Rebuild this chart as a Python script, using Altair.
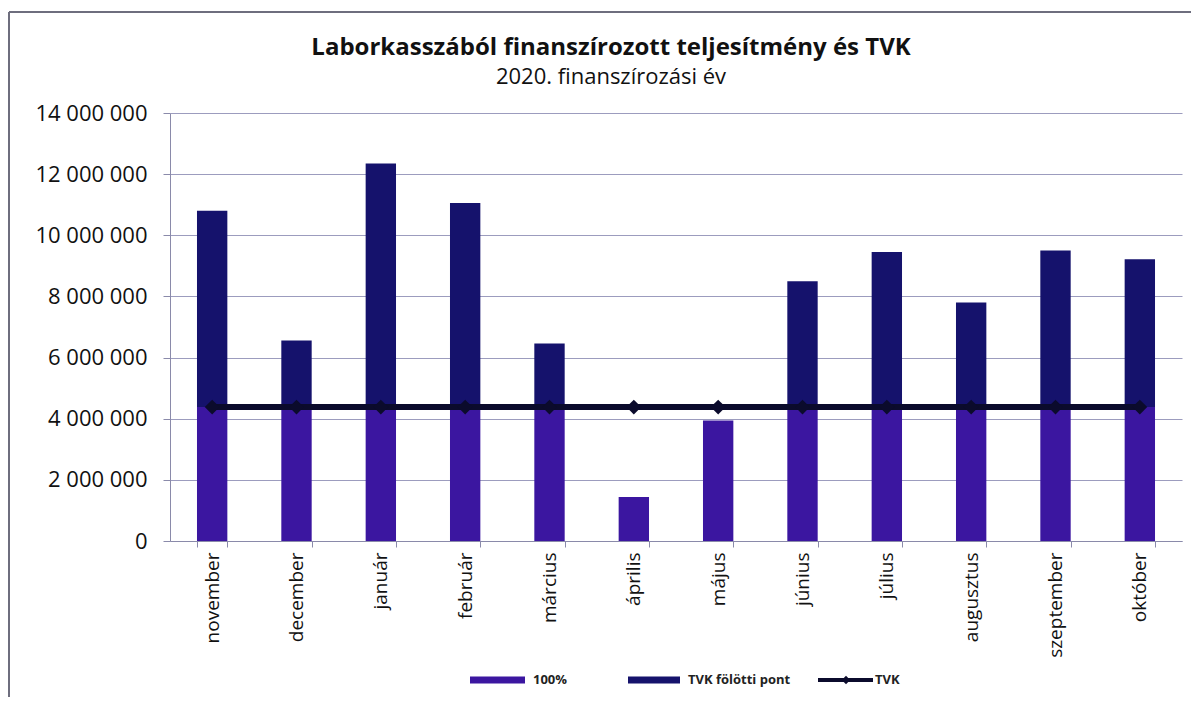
import altair as alt
import pandas as pd

months = ["november", "december", "január", "február", "március", "április",
          "május", "június", "július", "augusztus", "szeptember", "október"]
# total performance
total = [10800000, 6560000, 12350000, 11060000, 6460000, 1440000,
         3940000, 8500000, 9450000, 7800000, 9500000, 9220000]
tvk = [4380000] * 12
base_part = [min(t, v) for t, v in zip(total, tvk)]          # "100%"
above_part = [max(t - v, 0) for t, v in zip(total, tvk)]     # "TVK fölötti pont"

title_text = "Laborkasszából finanszírozott teljesítmény és TVK"
subtitle_text = "2020. finanszírozási év"
y_ticks = [0, 2000000, 4000000, 6000000, 8000000, 10000000, 12000000, 14000000]

C_BASE = "#3b16a0"
C_ABOVE = "#15126c"
C_LINE = "#0b0b2c"
C_GRID = "#9c9cbe"
FONT = "Open Sans"

rows = []
for m, b, a in zip(months, base_part, above_part):
    rows.append({"hónap": m, "sorozat": "100%", "érték": b, "rend": 0})
    rows.append({"hónap": m, "sorozat": "TVK fölötti pont", "érték": a, "rend": 1})
bars_df = pd.DataFrame(rows)
line_df = pd.DataFrame({"hónap": months, "TVK": tvk})

xscale = alt.Scale(domain=months, paddingInner=0.64, paddingOuter=0.32)
yscale = alt.Scale(domain=[0, 14000000], nice=False)

x_enc = alt.X("hónap:N", sort=months, scale=xscale, title=None,
              axis=alt.Axis(labelAngle=270, labelFontSize=19, labelFont=FONT,
                            labelColor="#111111", labelPadding=5, tickBand="extent",
                            tickSize=6, tickColor="#8a8aaa", domainColor="#8a8aaa",
                            grid=False))

bars = alt.Chart(bars_df).mark_bar().encode(
    x=x_enc,
    y=alt.Y("sum(érték):Q", scale=yscale, title=None, stack="zero",
            axis=alt.Axis(values=y_ticks,
                          labelExpr="replace(format(datum.value, ',d'), /,/g, ' ')",
                          labelFontSize=22, labelFont=FONT,
                          labelColor="#111111", labelPadding=16, tickSize=7,
                          tickColor="#8a8aaa", domainColor="#8a8aaa",
                          gridColor=C_GRID, gridWidth=1)),
    color=alt.Color("sorozat:N", scale=alt.Scale(domain=["100%", "TVK fölötti pont"],
                                                 range=[C_BASE, C_ABOVE]), legend=None),
    order=alt.Order("rend:Q", sort="ascending"),
)

line = alt.Chart(line_df).mark_line(color=C_LINE, strokeWidth=6).encode(
    x=alt.X("hónap:N", sort=months, scale=xscale),
    y=alt.Y("TVK:Q", scale=yscale),
)
pts = alt.Chart(line_df).mark_point(shape="diamond", filled=True, color=C_LINE,
                                    size=220, opacity=1).encode(
    x=alt.X("hónap:N", sort=months, scale=xscale),
    y=alt.Y("TVK:Q", scale=yscale),
)

one = pd.DataFrame({"t": [title_text], "s": [subtitle_text],
                    "l1": ["100%"], "l2": ["TVK fölötti pont"], "l3": ["TVK"]})

title_mark = alt.Chart(one).mark_text(font=FONT, fontSize=24, fontWeight="bold",
                                      color="#111111", align="center").encode(
    x=alt.value(441), y=alt.value(-65), text="t:N")
sub_mark = alt.Chart(one).mark_text(font=FONT, fontSize=22, color="#111111",
                                    align="center").encode(
    x=alt.value(441), y=alt.value(-36), text="s:N")

# legend (drawn manually)
leg_y = 567
lg1 = alt.Chart(one).mark_rule(color=C_BASE, strokeWidth=7).encode(
    x=alt.value(300), x2=alt.value(355), y=alt.value(leg_y))
lg2 = alt.Chart(one).mark_rule(color=C_ABOVE, strokeWidth=7).encode(
    x=alt.value(458), x2=alt.value(510), y=alt.value(leg_y))
lg3 = alt.Chart(one).mark_rule(color=C_LINE, strokeWidth=4).encode(
    x=alt.value(648), x2=alt.value(703), y=alt.value(leg_y))
lg3p = alt.Chart(one).mark_point(shape="diamond", filled=True, color=C_LINE,
                                 size=70, opacity=1).encode(
    x=alt.value(676), y=alt.value(leg_y))
lt_style = dict(font=FONT, fontSize=13, fontWeight="bold", color="#222222",
                align="left", baseline="middle")
lt1 = alt.Chart(one).mark_text(**lt_style).encode(x=alt.value(363), y=alt.value(leg_y), text="l1:N")
lt2 = alt.Chart(one).mark_text(**lt_style).encode(x=alt.value(518), y=alt.value(leg_y), text="l2:N")
lt3 = alt.Chart(one).mark_text(**lt_style).encode(x=alt.value(705), y=alt.value(leg_y), text="l3:N")

# outer frame (top and left edges visible in the reference)
frame_top = alt.Chart(one).mark_rule(color="#6e6e7e", strokeWidth=2).encode(
    x=alt.value(-161), x2=alt.value(1030), y=alt.value(-101))
frame_left = alt.Chart(one).mark_rule(color="#6e6e7e", strokeWidth=2).encode(
    x=alt.value(-161), y=alt.value(-101), y2=alt.value(600))

chart = alt.layer(
    bars, line, pts, title_mark, sub_mark,
    lg1, lg2, lg3, lg3p, lt1, lt2, lt3, frame_top, frame_left
).properties(
    width=1012, height=428,
    autosize=alt.AutoSizeParams(type="none"),
    padding={"left": 162, "top": 105, "right": 9, "bottom": 156},
).configure_view(stroke=None)

chart.save("out.html", embed_options={"renderer": "svg", "actions": False})
